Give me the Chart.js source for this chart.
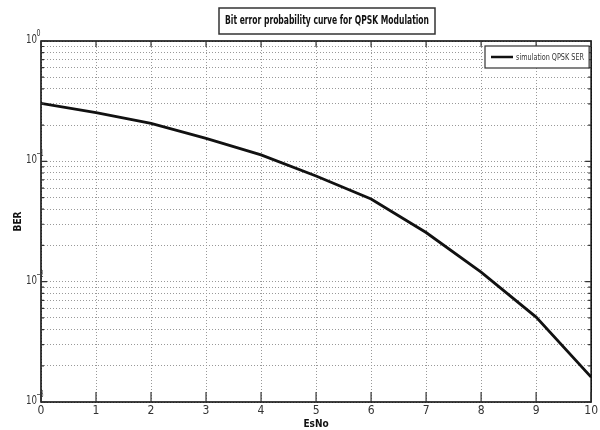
<!DOCTYPE html>
<html lang="en">
<head>
  <meta charset="UTF-8">
  <title>QPSK BER curve</title>
  <script src="https://cdn.jsdelivr.net/npm/chart.js"></script>
  <style>
    body {
      margin: 0;
      background: #fff;
    }
    #wrap {
      width: 600px;
      height: 430px;
    }
  </style>
</head>
<body>

  <div id="wrap"><canvas id="berChart"></canvas></div>

  <script>
    const titleText = 'Bit error probability curve for QPSK Modulation';
    const esNo = [0, 1, 2, 3, 4, 5, 6, 7, 8, 9, 10];
    const serValues = [0.303, 0.254, 0.207, 0.155, 0.113, 0.0755, 0.0486, 0.0256, 0.0120, 0.00508, 0.00161];
    const decades = [-3, -2, -1, 0];
    const seriesLabel = 'simulation QPSK SER';

    const narrow = "'DejaVu Sans Condensed', 'Liberation Sans', sans-serif";

    // all 1..9 x 10^n ticks so every minor grid line is drawn
    const yTicks = [];
    decades.forEach(d => {
      for (let m = 1; m <= 9; m++) {
        if (d === 0 && m > 1) break;
        yTicks.push({ value: m * Math.pow(10, d), major: m === 1 });
      }
    });

    // squeeze text horizontally, matlab fonts are very narrow
    function squeezeText(ctx, text, x, y, width) {
      const w = ctx.measureText(text).width;
      const sx = Math.min(1, width / w);
      ctx.save();
      ctx.translate(x, y);
      ctx.scale(sx, 1);
      ctx.fillText(text, 0, 0);
      ctx.restore();
    }

    // matlab style frame, inward ticks, title box, legend and y labels
    const matlabFrame = {
      id: 'matlabFrame',
      afterDraw(chart) {
        const ctx = chart.ctx;
        const a = chart.chartArea;
        const xs = chart.scales.x;
        const ys = chart.scales.y;
        ctx.save();

        ctx.strokeStyle = '#000';
        ctx.lineWidth = 1.5;
        ctx.strokeRect(a.left, a.top, a.right - a.left, a.bottom - a.top);

        ctx.lineWidth = 1.2;
        ctx.strokeStyle = '#333';
        ctx.beginPath();
        esNo.forEach(v => {
          const px = xs.getPixelForValue(v);
          ctx.moveTo(px, a.bottom); ctx.lineTo(px, a.bottom - 10);
          ctx.moveTo(px, a.top); ctx.lineTo(px, a.top + 6);
        });
        yTicks.forEach(t => {
          const py = ys.getPixelForValue(t.value);
          const len = t.major ? 6 : 3;
          ctx.moveTo(a.left, py); ctx.lineTo(a.left + len, py);
          ctx.moveTo(a.right, py); ctx.lineTo(a.right - len, py);
        });
        ctx.stroke();

        // y decade labels with superscripts
        ctx.fillStyle = '#333';
        ctx.textBaseline = 'alphabetic';
        ctx.textAlign = 'left';
        decades.forEach(d => {
          const py = ys.getPixelForValue(Math.pow(10, d));
          ctx.font = '13px ' + narrow;
          squeezeText(ctx, '10', 26, py + 2, 11);
          ctx.font = '9px ' + narrow;
          squeezeText(ctx, String(d).replace('-', '\u2212'), 36.5, py - 5, d < 0 ? 7 : 4);
        });

        // title box
        ctx.font = 'bold 12px ' + narrow;
        ctx.textAlign = 'left';
        ctx.textBaseline = 'middle';
        ctx.fillStyle = '#fff';
        ctx.fillRect(219, 8, 216, 26);
        ctx.strokeStyle = '#333';
        ctx.lineWidth = 1.5;
        ctx.strokeRect(219, 8, 216, 26);
        ctx.fillStyle = '#111';
        squeezeText(ctx, titleText, 225, 21, 204);

        // legend box in upper right
        ctx.font = '9px ' + narrow;
        const bx = 485, by = a.top + 5, bw = a.right - 2 - 485, bh = 22;
        ctx.fillStyle = '#fff';
        ctx.fillRect(bx, by, bw, bh);
        ctx.strokeStyle = '#333';
        ctx.lineWidth = 1.2;
        ctx.strokeRect(bx, by, bw, bh);
        ctx.strokeStyle = '#111';
        ctx.lineWidth = 2.5;
        ctx.beginPath();
        ctx.moveTo(bx + 6, by + bh / 2);
        ctx.lineTo(bx + 28, by + bh / 2);
        ctx.stroke();
        ctx.fillStyle = '#333';
        squeezeText(ctx, seriesLabel, bx + 31, by + bh / 2 + 1, 68);

        ctx.restore();
      }
    };

    const ctx = document.getElementById('berChart').getContext('2d');
    new Chart(ctx, {
      type: 'line',
      data: {
        labels: esNo,
        datasets: [{
          label: seriesLabel,
          data: esNo.map((x, i) => ({ x: x, y: serValues[i] })),
          borderColor: '#111',
          borderWidth: 2.8,
          pointRadius: 0,
          tension: 0
        }]
      },
      options: {
        responsive: true,
        maintainAspectRatio: false,
        animation: false,
        layout: { padding: { top: 41, right: 6, left: 0, bottom: 0 } },
        plugins: {
          legend: { display: false },
          tooltip: { enabled: false }
        },
        scales: {
          x: {
            type: 'linear',
            min: 0,
            max: 10,
            afterFit: s => { s.height = 28; },
            afterBuildTicks: s => { s.ticks = esNo.map(v => ({ value: v })); },
            ticks: {
              color: '#333',
              font: { family: narrow, size: 12 },
              padding: 2
            },
            grid: {
              color: '#999',
              lineWidth: 1,
              drawTicks: false
            },
            border: { display: false, dash: [1, 2] },
            title: {
              display: true,
              text: 'EsNo',
              color: '#111',
              font: { family: narrow, size: 10, weight: 'bold' },
              padding: { top: 1, bottom: 0 }
            }
          },
          y: {
            type: 'logarithmic',
            min: 0.001,
            max: 1,
            afterFit: s => { s.width = 41; },
            afterBuildTicks: s => { s.ticks = yTicks.map(t => ({ value: t.value })); },
            ticks: {
              display: false
            },
            grid: {
              color: '#999',
              lineWidth: 1,
              drawTicks: false
            },
            border: { display: false, dash: [1, 2] },
            title: {
              display: true,
              text: 'BER',
              color: '#111',
              font: { family: narrow, size: 10, weight: 'bold' },
              padding: { top: 12, bottom: 0 }
            }
          }
        }
      },
      plugins: [matlabFrame]
    });
  </script>

</body>
</html>
